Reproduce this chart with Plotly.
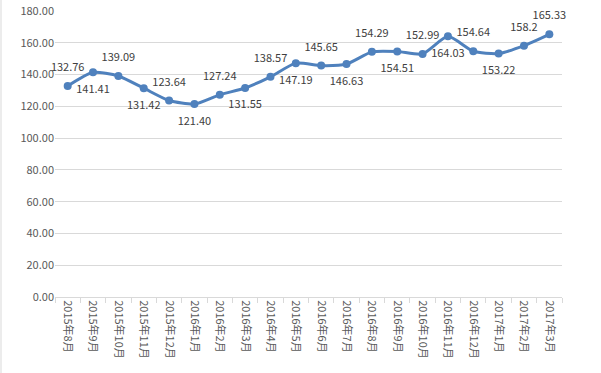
import plotly.graph_objects as go

months = ["2015年8月", "2015年9月", "2015年10月", "2015年11月", "2015年12月",
          "2016年1月", "2016年2月", "2016年3月", "2016年4月", "2016年5月",
          "2016年6月", "2016年7月", "2016年8月", "2016年9月", "2016年10月",
          "2016年11月", "2016年12月", "2017年1月", "2017年2月", "2017年3月"]
values = [132.76, 141.41, 139.09, 131.42, 123.64, 121.40, 127.24, 131.55, 138.57, 147.19,
          145.65, 146.63, 154.29, 154.51, 152.99, 164.03, 154.64, 153.22, 158.2, 165.33]
labels = ["132.76", "141.41", "139.09", "131.42", "123.64", "121.40", "127.24", "131.55",
          "138.57", "147.19", "145.65", "146.63", "154.29", "154.51", "152.99", "164.03",
          "154.64", "153.22", "158.2", "165.33"]
positions = ["top center", "bottom center"] * 9 + ["top center", "top center"]

font_family = "Noto Sans CJK SC, Noto Sans, sans-serif"

fig = go.Figure()
fig.add_trace(go.Scatter(
    x=months, y=values, mode="lines+markers",
    line=dict(color="#4F81BD", width=3, shape="spline", smoothing=0.6),
    marker=dict(color="#4F81BD", size=8),
    cliponaxis=False, hoverinfo="x+y",
))
# data labels (invisible larger markers give the labels more offset)
fig.add_trace(go.Scatter(
    x=months, y=values, mode="markers+text",
    text=labels, textposition=positions,
    textfont=dict(size=11, color="#404040", family=font_family),
    marker=dict(color="rgba(0,0,0,0)", size=18),
    cliponaxis=False, hoverinfo="skip",
))

fig.update_layout(
    width=601, height=373,
    margin=dict(l=55, r=39, t=11, b=76),
    paper_bgcolor="white", plot_bgcolor="white",
    showlegend=False,
    font=dict(family=font_family, size=11, color="#595959"),
    xaxis=dict(
        type="category", tickangle=90, showgrid=False, automargin=False,
        range=[-0.5, len(months) - 0.5],
        showline=True, linecolor="#d9d9d9", linewidth=1,
        ticks="outside", tickson="boundaries", ticklen=5, tickcolor="#d9d9d9",
        tickfont=dict(size=11, color="#595959"),
    ),
    yaxis=dict(
        range=[0, 180], dtick=20, tickformat=".2f", automargin=False,
        showgrid=True, gridcolor="#d9d9d9", gridwidth=1,
        zeroline=False, showline=False, ticks="",
        tickfont=dict(size=11, color="#595959"),
    ),
    shapes=[dict(type="line", xref="paper", yref="paper",
                 x0=-54 / 507, x1=-54 / 507, y0=-76 / 286, y1=1 + 11 / 286,
                 line=dict(color="#d9d9d9", width=1))],
)

fig.write_html("out.html", config={"displayModeBar": False},
               post_script="document.body.style.margin='0';document.body.style.overflow='hidden';")
